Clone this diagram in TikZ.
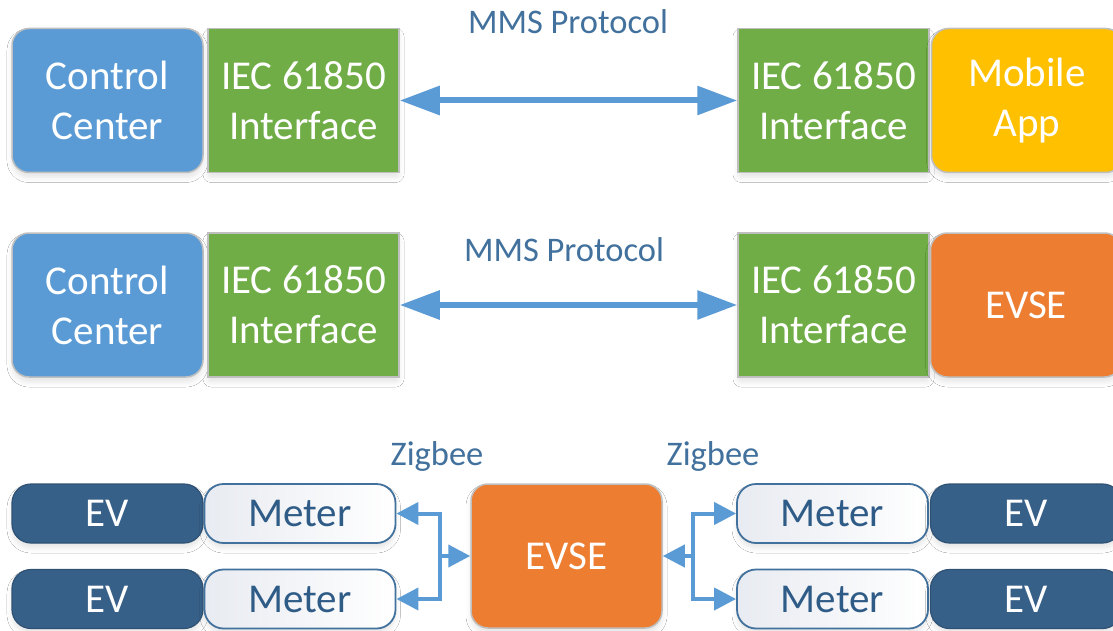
\documentclass[tikz,border=0pt]{standalone}
\usepackage{fontspec}
\setmainfont{Carlito}
\usetikzlibrary{arrows.meta,shadows.blur}
\definecolor{ccblue}{HTML}{5B9BD5}
\definecolor{iecgreen}{HTML}{70AD47}
\definecolor{appgold}{HTML}{FFC000}
\definecolor{evseorange}{HTML}{ED7D31}
\definecolor{evnavy}{HTML}{376089}
\definecolor{edgegray}{HTML}{BFBFBF}
\definecolor{labelblue}{HTML}{41719C}
\definecolor{linkblue}{HTML}{5B9BD5}
\definecolor{meterleft}{HTML}{E8EBF1}
\definecolor{metertext}{HTML}{2F5B87}

\tikzset{
  x=1pt, y=-1pt,
  ztip/.tip={Triangle[length=22pt,width=22pt]},
  mtip/.tip={Triangle[length=40pt,width=28pt]},
  dropshadow/.style={blur shadow={shadow xshift=0pt, shadow yshift=-5pt,
      shadow blur radius=5pt, shadow blur extra rounding=3pt, shadow opacity=10}},
  bigbox/.style={minimum width=191pt, minimum height=144pt, inner sep=0pt,
      align=center, text=white, font=\fontsize{41}{50}\selectfont,
      draw=edgegray, line width=1.5pt, dropshadow},
  ctrl/.style={bigbox, fill=ccblue, rounded corners=17pt},
  iec/.style={bigbox, fill=iecgreen},
  app/.style={bigbox, fill=appgold, rounded corners=17pt},
  evse/.style={bigbox, fill=evseorange, rounded corners=17pt},
  smallbox/.style={minimum width=191pt, minimum height=59pt, inner sep=0pt,
      font=\fontsize{41}{48}\selectfont, rounded corners=19pt, dropshadow},
  ev/.style={smallbox, fill=evnavy, draw=evnavy!85!black, line width=1.2pt, text=white},
  meter/.style={smallbox, left color=meterleft, right color=white,
      draw=labelblue, line width=1.8pt, text=metertext},
  proto/.style={text=labelblue, font=\fontsize{34.5}{40}\selectfont, inner sep=0pt},
  mms/.style={draw=linkblue, line width=6pt, mtip-mtip},
  zig/.style={draw=linkblue, line width=4pt, line join=miter}
}

\begin{document}
\begin{tikzpicture}
\clip (0,0) rectangle (1113,631);
\fill[white] (0,0) rectangle (1113,631);

% first row: control centre to mobile app
\node[ctrl] (cc1) at (107.5,100.5) {Control\\Center};
\node[iec]  (ia1) at (303.5,100.5) {IEC 61850\\Interface};
\node[iec]  (ib1) at (833.5,100.5) {IEC 61850\\Interface};
\node[app]  (app) at (1027,100.5) {Mobile\\App};
\draw[mms] (ia1.east) -- (ib1.west);
\node[proto] (mms1) at (568,22) {MMS Protocol};

% second row: control centre to charging station
\node[ctrl] (cc2) at (107.5,305) {Control\\Center};
\node[iec]  (ia2) at (303.5,305) {IEC 61850\\Interface};
\node[iec]  (ib2) at (833.5,305) {IEC 61850\\Interface};
\node[evse] (evse2) at (1026,305) {EVSE};
\draw[mms] (ia2.east) -- (ib2.west);
\node[proto] (mms2) at (564,250) {MMS Protocol};

% third row: charging station with metered vehicles
\node[evse] (evse3) at (566.5,556) {EVSE};

\node[ev]    (evl1) at (107.5,513.5) {EV};
\node[meter] (ml1)  at (300,513.5) {Meter};
\node[ev]    (evl2) at (107.5,599) {EV};
\node[meter] (ml2)  at (300,599) {Meter};

\node[meter] (mr1)  at (832.5,513.5) {Meter};
\node[ev]    (evr1) at (1026,513.5) {EV};
\node[meter] (mr2)  at (832.5,599) {Meter};
\node[ev]    (evr2) at (1026,599) {EV};

\node[proto] (zl) at (437,456) {Zigbee};
\node[proto] (zr) at (713,456) {Zigbee};

\coordinate (jl) at (440,556);
\coordinate (jr) at (693,556);

\draw[zig, ztip-ztip] (ml1.east) -- (ml1.east -| jl) -- (ml2.east -| jl) -- (ml2.east);
\draw[zig, -ztip] (jl) -- (evse3.west);
\draw[zig, ztip-ztip] (mr1.west) -- (mr1.west -| jr) -- (mr2.west -| jr) -- (mr2.west);
\draw[zig, -ztip] (jr) -- (evse3.east);
\end{tikzpicture}
\end{document}
